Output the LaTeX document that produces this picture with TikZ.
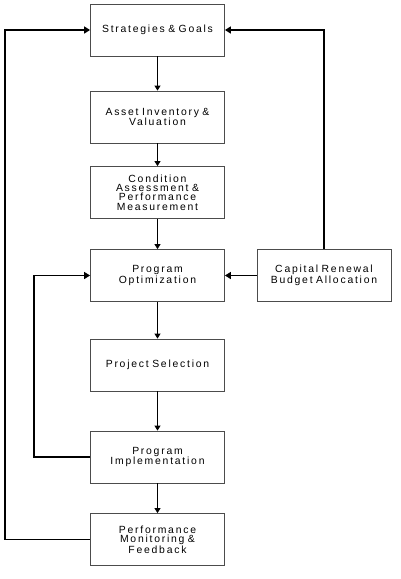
\documentclass[tikz,border=0pt]{standalone}
\usepackage{fontspec}
\newfontfamily\boxfont[LetterSpace=17,WordSpace=1.6]{Liberation Sans}
\usetikzlibrary{arrows.meta}
\begin{document}
\begin{tikzpicture}[x=1pt,y=-1pt,
  blk/.style={draw=black!70,line width=0.8pt,fill=white,minimum width=133pt,minimum height=52pt,inner sep=1pt,
    align=center,font=\boxfont\fontsize{10.4}{9.2}\selectfont,text width=132pt},
  flow/.style={line width=0.8pt,-{Triangle[length=5pt,width=6pt]}},
  fb/.style={line width=1.6pt,-{Triangle[length=6pt,width=7pt]}}]
\useasboundingbox (0,0) rectangle (400,579);
\node[blk] (sg) at (157.5,30) {Strategies \& Goals};
\node[blk] (ai) at (157.5,117) {Asset Inventory \&\\Valuation};
\node[blk] (ca) at (157.5,192.5) {Condition\\Assessment \&\\Performance\\Measurement};
\node[blk] (po) at (157.5,275.5) {Program\\Optimization};
\node[blk] (cr) at (324,275.5) {Capital Renewal\\Budget Allocation};
\node[blk] (ps) at (157.5,365) {Project Selection};
\node[blk] (pi) at (157.5,457) {Program\\Implementation};
\node[blk] (pm) at (157.5,539.5) {Performance\\Monitoring \&\\Feedback};
\coordinate (l1) at (5,539.5);
\coordinate (l2) at (5,30);
\coordinate (i1) at (34,457);
\coordinate (i2) at (34,275.5);
\coordinate (r1) at (324,30);
\draw[flow] (sg) -- (ai);
\draw[flow] (ai) -- (ca);
\draw[flow] (ca) -- (po);
\draw[flow] (po) -- (ps);
\draw[flow] (ps) -- (pi);
\draw[flow] (pi) -- (pm);
\draw[fb] (pm.west) -- (l1) -- (l2) -- (sg.west);
\draw[fb] (pi.west) -- (i1) -- (i2) -- (po.west);
\draw[fb] (cr.north) -- (r1) -- (sg.east);
\draw[fb] (cr.west) -- (po.east);
\end{tikzpicture}
\end{document}
